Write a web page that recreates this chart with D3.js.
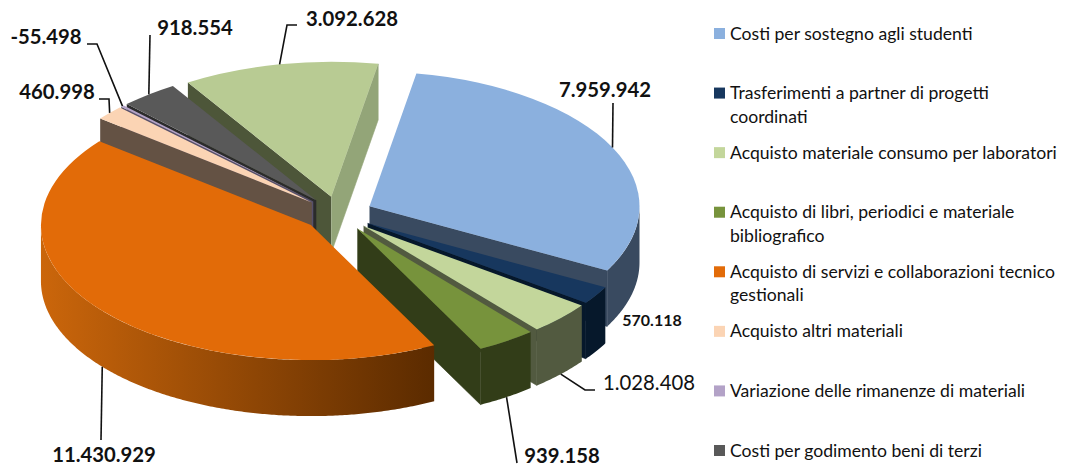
<!DOCTYPE html>
<html>
<head>
<meta charset="utf-8">
<title>Costi</title>
<script src="https://cdn.jsdelivr.net/npm/d3@7"></script>
<style>
  html, body { margin: 0; padding: 0; background: #fff; }
  svg { display: block; }
  text { font-family: Lato, "Open Sans", sans-serif; fill: #111; }
</style>
</head>
<body>
<div class="chart"></div>
<script>
const categories = [
  "Costi per sostegno agli studenti",
  "Trasferimenti a partner di progetti\ncoordinati",
  "Acquisto materiale consumo per laboratori",
  "Acquisto di libri, periodici e materiale\nbibliografico",
  "Acquisto di servizi e collaborazioni tecnico\ngestionali",
  "Acquisto altri materiali",
  "Variazione delle rimanenze di materiali",
  "Costi per godimento beni di terzi"
]

// slices of the pie, clockwise, same order as the legend
const values = [7959942, 570118, 1028408, 939158, 11430929, 460998, -55498, 918554, 3092628]

const topColors = ["#8bb0de", "#17375e", "#c3d69b", "#77933c", "#e26b08", "#fbd4b4", "#b3a2c7", "#595959", "#b8cb93"]
const startWall = [null, null, null, null, null, "#645244", "#57506a", "#2b2b2b", "#4d5639"]
const endWall = ["#394a60", "#06182b", "#525a40", "#323d18", null, null, null, null, "#93a578"]
const outerWall = ["#394a60", "#06182b", "#525a40", "#323d18", "url(#orangeWall)", null, null, null, null]

// back to front
const drawOrder = [8, 7, 6, 5, 0, 1, 2, 3, 4]

const legendColors = ["#8bb0de", "#17375e", "#c3d69b", "#77933c", "#e26b08", "#fbd4b4", "#b3a2c7", "#595959"]

// label centre, baseline, font and the elbow of the leader (slice index -> layout)
const labelLayout = [
  { x: 605, y: 97, size: 20.3, weight: 700, leader: [[613, 103]] },
  { x: 652, y: 326, size: 16, weight: 700, leader: null },
  { x: 649, y: 390, size: 20.3, weight: 400, leader: [[585, 390], [595, 390]] },
  { x: 562, y: 463, size: 20.3, weight: 700, leader: [[517, 463]] },
  { x: 104, y: 462, size: 20.3, weight: 700, leader: [[101, 440]] },
  { x: 57, y: 99, size: 20.3, weight: 700, leader: [[109, 99], [99, 99]] },
  { x: 46, y: 44, size: 20.3, weight: 700, leader: [[97, 44], [87, 44]] },
  { x: 195, y: 35, size: 20.3, weight: 700, leader: [[150, 35]] },
  { x: 352, y: 26, size: 20.3, weight: 700, leader: [[287, 25], [297, 25]] }
]

const width = 1071
const height = 469
const cx = 338
const cy = 214
const rx = 270
const ry = 135
const depth = 56
const explode = 35

const svg = d3.select(".chart")
  .append("svg")
  .attr("width", width)
  .attr("height", height)

const grad = svg.append("defs").append("linearGradient")
  .attr("id", "orangeWall")
  .attr("gradientUnits", "userSpaceOnUse")
  .attr("x1", 40).attr("x2", 434).attr("y1", 0).attr("y2", 0)
grad.append("stop").attr("offset", "0%").attr("stop-color", "#cb660b")
grad.append("stop").attr("offset", "100%").attr("stop-color", "#5b2b00")

const deg = Math.PI / 180
const pie = d3.pie()
  .value(d => Math.abs(d))
  .sort(null)
  .startAngle(10 * deg)
  .endAngle(370 * deg)

const arcs = pie(values)

const arc = d3.arc().innerRadius(0).outerRadius(rx)
const line = d3.line()

arcs.forEach(d => {
  const mid = (d.startAngle + d.endAngle) / 2
  d.mid = mid
  d.ax = cx + explode * Math.sin(mid)
  d.ay = cy - explode * Math.cos(mid) * ry / rx
})

function rim(d, a, drop = 0) {
  return [d.ax + rx * Math.sin(a), d.ay - ry * Math.cos(a) + drop]
}

function sideWall(d, a) {
  return line([[d.ax, d.ay], rim(d, a), rim(d, a, depth), [d.ax, d.ay + depth]])
}

function curvedWall(d) {
  // only the front half of the rim shows
  const from = Math.max(d.startAngle, 90 * deg)
  const to = Math.min(d.endAngle, 270 * deg)
  const steps = d3.range(from, to, 0.5 * deg).concat([to])
  return line(steps.map(a => rim(d, a)).concat(steps.reverse().map(a => rim(d, a, depth))))
}

const slices = svg.append("g")
  .selectAll("g")
  .data(drawOrder.map(i => arcs[i]))
  .join("g")

slices.filter(d => startWall[d.index] && Math.sin(d.startAngle) < 0)
  .append("path")
  .attr("d", d => sideWall(d, d.startAngle))
  .attr("fill", d => startWall[d.index])

// the thin stroke closes the seam against the curved wall
slices.filter(d => endWall[d.index] && Math.sin(d.endAngle) > 0)
  .append("path")
  .attr("d", d => sideWall(d, d.endAngle))
  .attr("fill", d => endWall[d.index])
  .attr("stroke", d => endWall[d.index])
  .attr("stroke-width", 0.6)

slices.filter(d => outerWall[d.index])
  .append("path")
  .attr("d", curvedWall)
  .attr("fill", d => outerWall[d.index])

slices.append("path")
  .attr("d", arc)
  .attr("transform", d => `translate(${d.ax},${d.ay}) scale(1,${ry / rx})`)
  .attr("fill", d => topColors[d.index])

// leaders start on the rim at the middle of the slice
const leaders = arcs.filter(d => labelLayout[d.index].leader)
svg.append("g")
  .selectAll("path")
  .data(leaders)
  .join("path")
  .attr("d", d => {
    const front = Math.cos(d.mid) < 0
    return line([rim(d, d.mid, front ? depth : 0)].concat(labelLayout[d.index].leader))
  })
  .attr("fill", "none")
  .attr("stroke", "#111")
  .attr("stroke-width", 1.6)

const fmt = d3.formatLocale({ decimal: ",", thousands: ".", grouping: [3], currency: ["€", ""], minus: "-" }).format(",d")

svg.append("g")
  .selectAll("text")
  .data(arcs)
  .join("text")
  .attr("x", d => labelLayout[d.index].x)
  .attr("y", d => labelLayout[d.index].y)
  .attr("text-anchor", "middle")
  .attr("font-size", d => labelLayout[d.index].size)
  .attr("font-weight", d => labelLayout[d.index].weight)
  .text(d => fmt(values[d.index]))

// legend
const legendY = d3.scalePoint()
  .domain(categories)
  .range([33.5, 450.5])

const legend = svg.append("g")
  .selectAll("g")
  .data(categories)
  .join("g")
  .attr("transform", d => `translate(714,${legendY(d)})`)

legend.append("rect")
  .attr("y", -5.5)
  .attr("width", 11)
  .attr("height", 11)
  .attr("fill", (d, i) => legendColors[i])

legend.append("text")
  .attr("font-size", 17.6)
  .selectAll("tspan")
  .data(d => d.split("\n"))
  .join("tspan")
  .attr("x", 16)
  .attr("y", (d, i) => 6 + i * 23.5)
  .text(d => d)
</script>
</body>
</html>
